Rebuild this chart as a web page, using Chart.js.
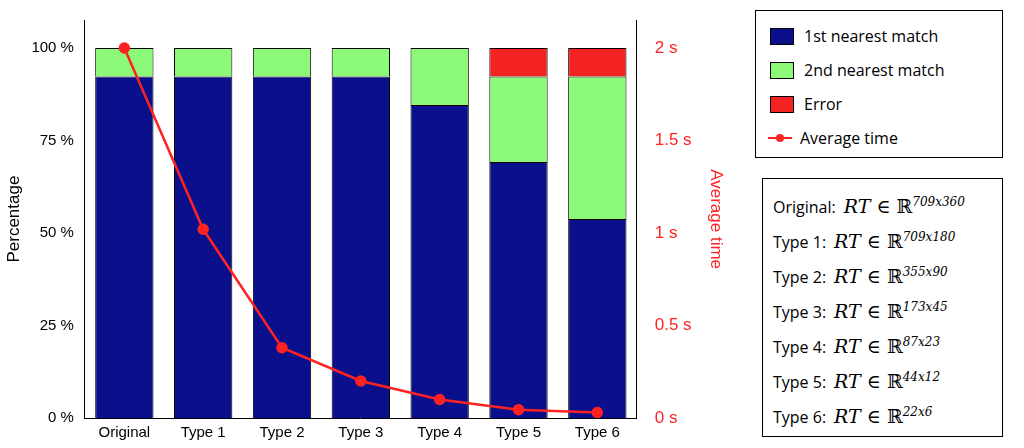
<!DOCTYPE html>
<html><head><meta charset="utf-8">
<script src="https://cdn.jsdelivr.net/npm/chart.js@4"></script>
<style>
body{margin:0;width:1024px;height:448px;background:#fff;font-family:"Open Sans",sans-serif;position:relative;overflow:hidden}
#wrap{position:absolute;left:0;top:0;width:730px;height:448px}
.box{position:absolute;border:1px solid #000;background:#fff;font-size:16px;color:#000}
.row{display:flex;align-items:center;height:34px}
.sw{width:22px;height:15px;border:1px solid #000;margin:0 10px 0 14px}
.ln{position:relative;width:24px;margin:0 8px 0 12px;height:2px;background:#f22}
.ln:after{content:"";position:absolute;left:8px;top:-3px;width:8px;height:8px;border-radius:50%;background:#f22}
.m{font-family:"DejaVu Serif",serif;font-style:italic;font-size:19px;margin-left:8px}
.m span{font-style:normal}
.m sup{font-size:12px}
.r2{height:35px;padding-left:10px;display:flex;align-items:center}
</style></head><body>
<div id="wrap"><canvas id="c" width="730" height="448"></canvas></div>
<div class="box" style="left:755px;top:10px;width:248px;height:148px;padding-top:8px;box-sizing:border-box">
<div class="row"><div class="sw" style="background:#0a0f8c"></div>1st nearest match</div>
<div class="row"><div class="sw" style="background:#8cfa78"></div>2nd nearest match</div>
<div class="row"><div class="sw" style="background:#f52222"></div>Error</div>
<div class="row"><div class="ln"></div>Average time</div>
</div>
<div class="box" id="eq" style="left:762px;top:178px;width:241px;height:259px;padding-top:10px;box-sizing:border-box"></div>
<script>
const categories = ["Original","Type 1","Type 2","Type 3","Type 4","Type 5","Type 6"];
const firstMatch = [92.3,92.3,92.3,92.3,84.6,69.2,53.8];
const secondMatch = [7.7,7.7,7.7,7.7,15.4,23.1,38.5];
const errorPct = [0,0,0,0,0,7.7,7.7];
const avgTime = [2.0,1.02,0.38,0.2,0.1,0.045,0.03];
const dims = ["709x360","709x180","355x90","173x45","87x23","44x12","22x6"];

document.getElementById("eq").innerHTML = categories.map((c,i) =>
  '<div class="r2">' + c + ':<span class="m">RT <span>∈ ℝ</span><sup>' + dims[i] + '</sup></span></div>').join("");

const bar = (label, data, color) => ({type:"bar", label, data, backgroundColor:color, borderColor:"#000", borderWidth:1, yAxisID:"y", order:2, barPercentage:0.74, categoryPercentage:1});
new Chart(document.getElementById("c"), {
  data: {
    labels: categories,
    datasets: [
      {type:"line", label:"Average time", data:avgTime, borderColor:"#f22", backgroundColor:"#f22", borderWidth:2.5, pointRadius:4.5, yAxisID:"y1", order:1},
      bar("1st nearest match", firstMatch, "#0a0f8c"),
      bar("2nd nearest match", secondMatch, "#8cfa78"),
      bar("Error", errorPct, "#f52222")
    ]
  },
  options: {
    responsive:false, animation:false,
    layout:{padding:{left:0,right:0,top:14,bottom:0}},
    plugins:{legend:{display:false}, tooltip:{enabled:false}},
    scales:{
      x:{stacked:true, grid:{display:false, drawTicks:false}, border:{color:"#000"},
         ticks:{color:"#000", font:{size:15}, padding:6}},
      y:{stacked:true, min:0, max:107.5, position:"left",
         afterBuildTicks:a=>{a.ticks=[0,25,50,75,100].map(v=>({value:v}))},
         grid:{display:false}, border:{color:"#000"},
         ticks:{color:"#000", font:{size:15}, callback:v=>v+" %"},
         title:{display:true, text:"Percentage", color:"#000", font:{size:17}}},
      y1:{min:0, max:2.15, position:"right",
         afterBuildTicks:a=>{a.ticks=[0,0.5,1,1.5,2].map(v=>({value:v}))},
         grid:{display:false}, border:{color:"#000"},
         ticks:{color:"#f22", font:{size:17}, padding:10, callback:v=>v+" s"},
         title:{display:true, text:"Average time", color:"#f22", font:{size:17}}}
    }
  }
});
</script>
</body></html>
